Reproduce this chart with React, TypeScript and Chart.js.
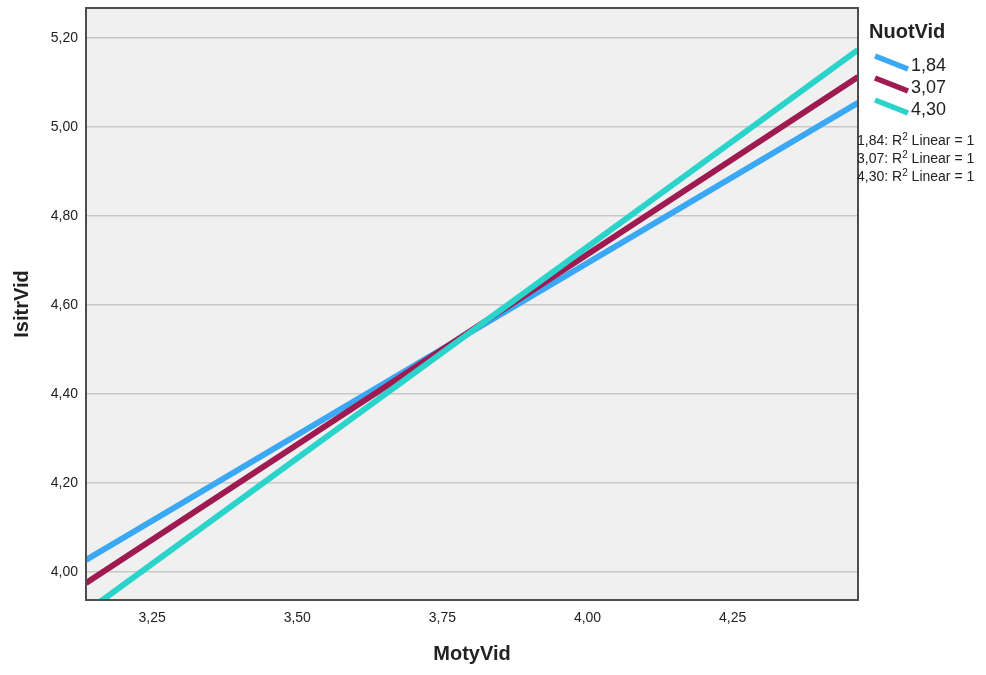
import React, { useEffect, useRef } from "react";
import { Chart, registerables } from "chart.js";

Chart.register(...registerables);

const xEnds = [3.136, 4.466];
const series184 = [4.027, 5.054];
const series307 = [3.975, 5.112];
const series430 = [3.91, 5.173];
const seriesLabels = ["1,84", "3,07", "4,30"];
const seriesColors = ["#3BA8F5", "#9E1A50", "#2BD4CB"];
const xTicks = [3.25, 3.5, 3.75, 4.0, 4.25];
const yTicks = [4.0, 4.2, 4.4, 4.6, 4.8, 5.0, 5.2];

const fmt = (v: number) => v.toFixed(2).replace(".", ",");

const framePlugin = {
  id: "frame",
  beforeDraw(chart: any) {
    const { ctx, chartArea: a } = chart;
    ctx.save();
    ctx.fillStyle = "#F0F0F0";
    ctx.fillRect(a.left, a.top, a.right - a.left, a.bottom - a.top);
    ctx.restore();
  },
  afterDraw(chart: any) {
    const { ctx, chartArea: a } = chart;
    ctx.save();
    ctx.strokeStyle = "#4D4D4D";
    ctx.lineWidth = 2;
    ctx.strokeRect(a.left, a.top, a.right - a.left, a.bottom - a.top);
    ctx.restore();
  },
};

export default function App() {
  const ref = useRef<HTMLCanvasElement>(null);
  useEffect(() => {
    const all = [series184, series307, series430];
    const chart = new Chart(ref.current!, {
      type: "scatter",
      data: {
        datasets: all.map((s, i) => ({
          label: seriesLabels[i],
          data: xEnds.map((x, j) => ({ x, y: s[j] })),
          showLine: true,
          borderColor: seriesColors[i],
          backgroundColor: seriesColors[i],
          borderWidth: 6,
          pointRadius: 0,
          borderCapStyle: "butt",
          clip: 0,
          order: 3 - i,
        })),
      },
      options: {
        animation: false,
        responsive: false,
        layout: { padding: { top: 8, right: 128, left: 0, bottom: 0 } },
        plugins: { legend: { display: false }, tooltip: { enabled: false } },
        scales: {
          x: {
            type: "linear",
            min: xEnds[0],
            max: xEnds[1],
            afterBuildTicks: (s: any) => {
              s.ticks = xTicks.map((v) => ({ value: v }));
            },
            afterFit: (s: any) => {
              s.height = 75;
              s.paddingLeft = 0;
              s.paddingRight = 0;
            },
            grid: { display: false, drawTicks: false },
            border: { display: false },
            ticks: {
              padding: 10,
              color: "#222",
              font: { family: "Liberation Sans, Arial", size: 14 },
              callback: (v: any) => fmt(Number(v)),
            },
            title: {
              display: true,
              text: "MotyVid",
              color: "#222",
              font: { family: "Liberation Sans, Arial", size: 20, weight: "bold" },
              padding: { top: 0, bottom: 9 },
            },
          },
          y: {
            type: "linear",
            min: 3.937,
            max: 5.267,
            afterBuildTicks: (s: any) => {
              s.ticks = yTicks.map((v) => ({ value: v }));
            },
            afterFit: (s: any) => {
              s.width = 86;
              s.paddingTop = 0;
              s.paddingBottom = 0;
            },
            grid: { color: "#C8C8C8", lineWidth: 1.5, drawTicks: false },
            border: { display: false },
            ticks: {
              padding: 8,
              color: "#222",
              font: { family: "Liberation Sans, Arial", size: 14 },
              callback: (v: any) => fmt(Number(v)),
            },
            title: {
              display: true,
              text: "IsitrVid",
              color: "#222",
              font: { family: "Liberation Sans, Arial", size: 20, weight: "bold" },
              padding: { top: 10, bottom: 0 },
            },
          },
        },
      },
      plugins: [framePlugin],
    } as any);
    return () => chart.destroy();
  }, []);

  const legendTop = [56, 78, 100];
  const textStyle: React.CSSProperties = {
    position: "absolute",
    fontFamily: "Liberation Sans, Arial",
    color: "#222",
    whiteSpace: "nowrap",
  };
  return (
    <div style={{ position: "fixed", left: 0, top: 0, width: 986, height: 675, background: "#fff" }}>
      <canvas ref={ref} width={986} height={675} style={{ display: "block" }} />
      <div style={{ ...textStyle, left: 869, top: 19, fontSize: 20, fontWeight: "bold", lineHeight: "24px" }}>
        NuotVid
      </div>
      {seriesLabels.map((l, i) => (
        <React.Fragment key={l}>
          <svg style={{ position: "absolute", left: 872, top: legendTop[i] - 4 }} width={40} height={22}>
            <line x1={3} y1={4} x2={36} y2={17} stroke={seriesColors[i]} strokeWidth={5.5} />
          </svg>
          <div style={{ ...textStyle, left: 911, top: legendTop[i] - 1, fontSize: 18, lineHeight: "20px" }}>{l}</div>
        </React.Fragment>
      ))}
      {seriesLabels.map((l, i) => (
        <div
          key={"r" + l}
          style={{ ...textStyle, left: 857, top: 131 + i * 18, fontSize: 14, lineHeight: "18px" }}
        >
          {l}: R<sup style={{ fontSize: 10, verticalAlign: "top", lineHeight: "12px" }}>2</sup> Linear = 1
        </div>
      ))}
    </div>
  );
}
